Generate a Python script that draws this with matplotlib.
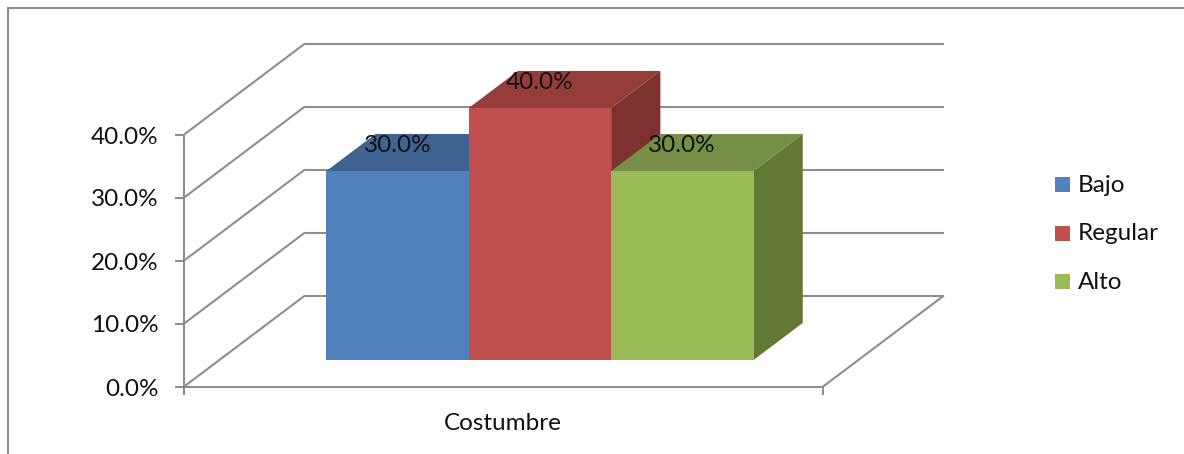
import matplotlib
matplotlib.use("Agg")
import matplotlib.pyplot as plt
from matplotlib.patches import Polygon, Rectangle

plt.rcParams['font.family'] = ['Lato', 'DejaVu Sans']

# Chart data
category = "Costumbre"
series_names = ["Bajo", "Regular", "Alto"]
series_values = [30.0, 40.0, 30.0]
axis_ticks = [0, 10, 20, 30, 40]

# Face colours per series: front, top, side
front_colors = ["#4F81BD", "#C0504D", "#9BBB59"]
top_colors = ["#3E6390", "#943D3B", "#768E45"]
side_colors = ["#345378", "#7D3230", "#647835"]

GREY = "#8E8E8E"
TEXT = "#111111"
FONT_SIZE = 17.5
W, H = 1184, 454

# Oblique projection of the 3D box onto the canvas (pixels)
X0, X1 = 183.5, 822.5
Y0 = 387.0
PX_PER_UNIT = 6.3
DEPTH_X, DEPTH_Y = 121.5, -91.5


def project(x, value, depth=0.0):
    """x in pixels on the front edge, value in percent, depth 0..1 front to back."""
    return (x + DEPTH_X * depth, Y0 - value * PX_PER_UNIT + DEPTH_Y * depth)


fig = plt.figure(figsize=(W / 100, H / 100), dpi=100)
ax = fig.add_axes([0, 0, 1, 1])
ax.set_xlim(0, W)
ax.set_ylim(H, 0)
ax.axis("off")


def line(p, q, lw=1.5, z=1):
    ax.plot([p[0], q[0]], [p[1], q[1]], color=GREY, lw=lw, zorder=z,
            solid_capstyle="butt")


# Outer chart frame: left and top edges only
line((7.5, H), (7.5, 7.5), lw=1.5)
line((7.0, 7.5), (W, 7.5), lw=1.5)

# Walls: gridlines run up the side wall, then across the back wall
for t in axis_ticks:
    line(project(X0, t), project(X0, t, 1))
    line(project(X0, t, 1), project(X1, t, 1))
    line((X0 - 8.5, project(X0, t)[1]), project(X0, t))
    ax.text(158.5, project(X0, t)[1] + 2, f"{t:.1f}%", ha="right", va="center",
            fontsize=FONT_SIZE, color=TEXT, zorder=9)

# Floor front and right edges, axis line and end ticks
line(project(X0, 0), project(X1, 0))
line(project(X1, 0), project(X1, 0, 1))
line(project(X0, 40), (X0, Y0 + 8))
line((X1, Y0), (X1, Y0 + 8))

# Bars sit part way into the depth of the floor
BAR_LEFT = 290.5
BAR_WIDTH = 142.4
BAR_DEPTH_START = 0.295
BAR_DEPTH_END = 0.70

# Bars are painted left to right, so each one covers its neighbour's side face
for i, (value, name) in enumerate(zip(series_values, series_names)):
    xa = BAR_LEFT + i * BAR_WIDTH
    xb = xa + BAR_WIDTH
    d0, d1 = BAR_DEPTH_START, BAR_DEPTH_END
    z = 3 + i * 0.1
    ax.add_patch(Polygon([project(xb, 0, d0), project(xb, value, d0),
                          project(xb, value, d1), project(xb, 0, d1)],
                         closed=True, fc=side_colors[i], ec="none", zorder=z))
    ax.add_patch(Polygon([project(xa, value, d0), project(xb, value, d0),
                          project(xb, value, d1), project(xa, value, d1)],
                         closed=True, fc=top_colors[i], ec="none", zorder=z))
    ax.add_patch(Polygon([project(xa, 0, d0), project(xb, 0, d0),
                          project(xb, value, d0), project(xa, value, d0)],
                         closed=True, fc=front_colors[i], ec="none", zorder=z + 0.01))
    # Value label centred over the bar's top face
    lx = (xa + xb) / 2 + 0.5 * (d0 + d1) * DEPTH_X * 0.59
    ly = project(xa, value, d1)[1] + 12
    ax.text(lx, ly, f"{value:.1f}%", ha="center", va="center",
            fontsize=FONT_SIZE, color=TEXT, zorder=9)

# Category label
ax.text((X0 + X1) / 2 - 0.5, 423, category, ha="center", va="center",
        fontsize=FONT_SIZE, color=TEXT)

# Legend
legend_rows = [184.5, 233, 281.5]
for name, color, y in zip(series_names, front_colors, legend_rows):
    ax.add_patch(Rectangle((1055, y - 7.5), 15, 15, fc=color, ec="none"))
    ax.text(1078, y + 1, name, ha="left", va="center", fontsize=FONT_SIZE, color=TEXT)

fig.savefig("out.png", dpi=100, facecolor="white")
